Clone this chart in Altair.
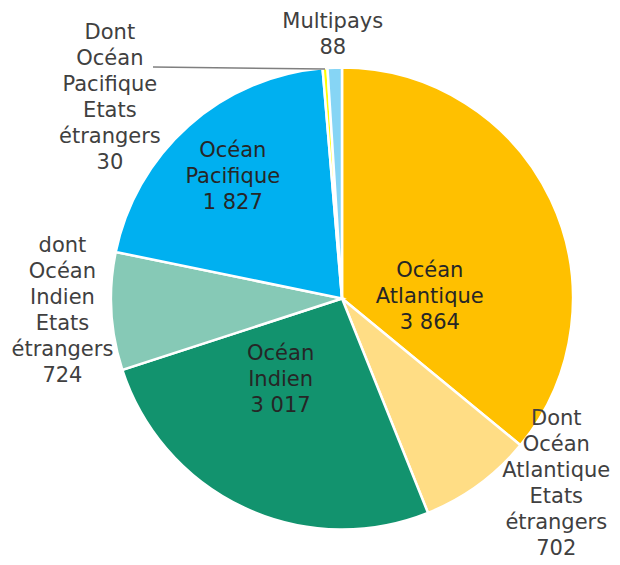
import math
import altair as alt
import pandas as pd

# ---- data ----
categories = [
    "Océan Atlantique",
    "Dont Océan Atlantique Etats étrangers",
    "Océan Indien",
    "dont Océan Indien Etats étrangers",
    "Océan Pacifique",
    "Dont Océan Pacifique Etats étrangers",
    "Multipays",
]
values = [3864, 702, 3017, 724, 1827, 30, 88]
# index of the ocean total that each "dont" slice is part of
part_of = [None, 0, None, 2, None, 4, None]
label_lines = [
    ["Océan", "Atlantique"],
    ["Dont", "Océan", "Atlantique", "Etats", "étrangers"],
    ["Océan", "Indien"],
    ["dont", "Océan", "Indien", "Etats", "étrangers"],
    ["Océan", "Pacifique"],
    ["Dont", "Océan", "Pacifique", "Etats", "étrangers"],
    ["Multipays"],
]

# ---- styles ----
colors = ["#FFC000", "#FFDD85", "#12936E", "#86C9B6", "#00B0F0", "#FFFF00", "#86D5F5"]
FONT = "DejaVu Sans"
FS = 21
LH = 26

# slice sizes: ocean totals minus their "dont" part
slice_vals = list(values)
for i, p in enumerate(part_of):
    if p is not None:
        slice_vals[p] -= values[i]
total = sum(slice_vals)
mids = []
cum = 0
for v in slice_vals:
    mids.append(cum + v / 2)
    cum += v


def fmt(n):
    return f"{n:,}".replace(",", " ")


df = pd.DataFrame({
    "cat": categories,
    "order": list(range(len(categories))),
    "size": slice_vals,
    "mid": mids,
    "label": ["\n".join(l + [fmt(v)]) for l, v in zip(label_lines, values)],
})

W, H = 604, 549
CX, CY, R = 334, 290.5, 231

pie = alt.Chart(df).mark_arc(radius=R, stroke="white", strokeWidth=2.5).encode(
    theta=alt.Theta("size:Q", stack=True),
    order=alt.Order("order:Q"),
    color=alt.Color("cat:N", scale=alt.Scale(domain=categories, range=colors), legend=None),
    x=alt.value(CX),
    y=alt.value(CY),
)

# label placement (block centre): (radius, dx, dy, colour)
label_layout = {
    categories[0]: (96, 1, 40, "#262626"),
    categories[1]: (300, 37, -57, "#404040"),
    categories[2]: (100, -19, -9, "#262626"),
    categories[3]: (281, 1, -3, "#404040"),
    categories[4]: (163, -1, 0, "#262626"),
    categories[5]: (260, -213, 59, "#404040"),
    categories[6]: (263, -1, -1, "#404040"),
}

layers = [pie]
for i, (cat, (r, dx, dy, col)) in enumerate(label_layout.items()):
    n_lines = len(label_lines[i]) + 1
    t = alt.Chart(df).transform_filter(alt.datum.cat == cat).mark_text(
        radius=r, dx=dx, dy=dy - (n_lines - 1) * LH / 2, lineBreak="\n", font=FONT,
        fontSize=FS, lineHeight=LH, align="center", baseline="middle", color=col,
    ).encode(
        theta=alt.Theta("mid:Q", stack=None,
                        scale=alt.Scale(domain=[0, total], range=[0, 2 * math.pi])),
        text="label:N",
        x=alt.value(CX),
        y=alt.value(CY),
    )
    layers.append(t)

leader = alt.Chart(pd.DataFrame({"k": [0]})).mark_rule(color="#7F7F7F", strokeWidth=1.5).encode(
    x=alt.value(145), x2=alt.value(317), y=alt.value(59), y2=alt.value(61)
)
layers.append(leader)

chart = alt.layer(*layers).resolve_scale(theta="independent").properties(
    width=W, height=H, autosize=alt.AutoSizeParams(type="none"), padding=0,
).configure_view(stroke=None)

chart.save("out.html", embed_options={"renderer": "svg", "actions": False})
